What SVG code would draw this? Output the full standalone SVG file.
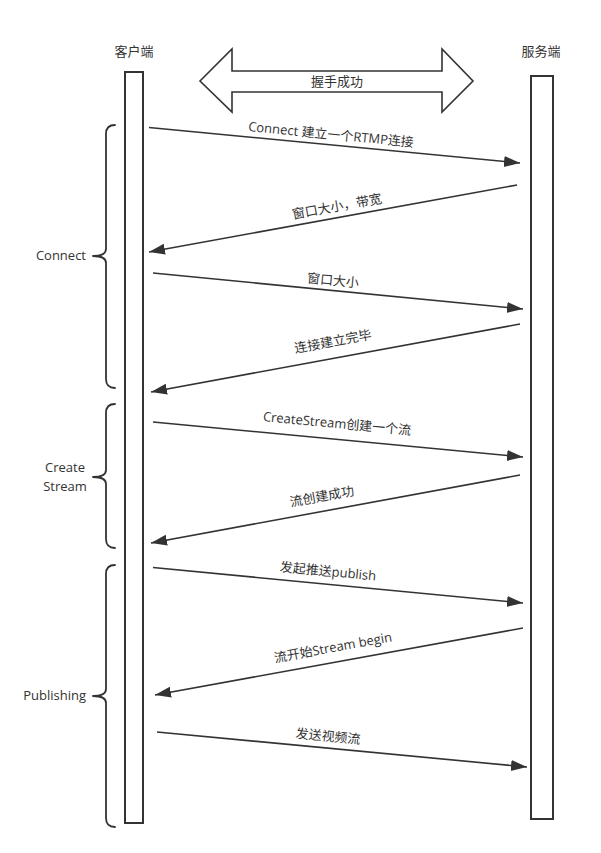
<svg xmlns="http://www.w3.org/2000/svg" width="601" height="853" viewBox="0 0 601 853">
<style>
.t{font-family:"Open Sans","Noto Sans CJK SC",sans-serif;font-size:13px;fill:#333}
.ln{stroke:#333;stroke-width:1.6;fill:none}
.box{stroke:#333;stroke-width:2;fill:#fff}
.br{stroke:#333;stroke-width:1.8;fill:none;stroke-linecap:round;stroke-linejoin:round}
</style>
<defs>
<marker id="ah" markerUnits="userSpaceOnUse" markerWidth="18" markerHeight="14" viewBox="0 0 18 14" refX="16" refY="7" orient="auto">
<path d="M0,1.5 L16,7 L0,12.5 Z" fill="#333"/>
</marker>
</defs>
<rect width="601" height="853" fill="#fff"/>
<g id="client">
<rect class="box" x="125" y="72" width="18" height="751"/>
<text class="t" x="134" y="56" text-anchor="middle">客户端</text>
</g>
<g id="server">
<rect class="box" x="531" y="76" width="22" height="743"/>
<text class="t" x="541" y="56" text-anchor="middle">服务端</text>
</g>
<g id="handshake">
<polygon points="200,81 232,49 232,71 442,71 442,49 473,81 442,112 442,92 232,92 232,112" fill="#fff" stroke="#333" stroke-width="1.6" stroke-linejoin="miter"/>
<text class="t" x="337" y="86" text-anchor="middle">握手成功</text>
</g>
<g id="brace-connect">
<path class="br" d="M115,125 Q106,125 106,134 L106,249 Q106,256 93,256 Q106,256 106,263 L106,379 Q106,388 115,388"/>
<text class="t" x="86" y="260" text-anchor="end">Connect</text>
</g>
<g id="brace-create">
<path class="br" d="M115,404 Q106,404 106,413 L106,470 Q106,477 93,477 Q106,477 106,484 L106,539 Q106,548 115,548"/>
<text class="t" x="65" y="472" text-anchor="middle">Create</text>
<text class="t" x="65" y="491" text-anchor="middle">Stream</text>
</g>
<g id="brace-publishing">
<path class="br" d="M115,565 Q106,565 106,574 L106,689 Q106,696 93,696 Q106,696 106,703 L106,818 Q106,827 115,827"/>
<text class="t" x="86" y="700" text-anchor="end">Publishing</text>
</g>
<g id="connectors">
<line class="ln" x1="149" y1="127.5" x2="520" y2="163" marker-end="url(#ah)"/>
<line class="ln" x1="517" y1="185" x2="149" y2="252" marker-end="url(#ah)"/>
<line class="ln" x1="153" y1="273" x2="523" y2="309" marker-end="url(#ah)"/>
<line class="ln" x1="520" y1="324" x2="151" y2="392" marker-end="url(#ah)"/>
<line class="ln" x1="153" y1="422" x2="523" y2="457" marker-end="url(#ah)"/>
<line class="ln" x1="520" y1="475" x2="151" y2="543" marker-end="url(#ah)"/>
<line class="ln" x1="153" y1="567.5" x2="523" y2="603" marker-end="url(#ah)"/>
<line class="ln" x1="523" y1="628" x2="155" y2="695" marker-end="url(#ah)"/>
<line class="ln" x1="157" y1="732" x2="527" y2="767" marker-end="url(#ah)"/>
</g>
<g id="labels">
<text class="t" x="331" y="139" text-anchor="middle" transform="rotate(5.5 331 135)">Connect 建立一个RTMP连接</text>
<text class="t" x="337" y="211" text-anchor="middle" transform="rotate(-10.3 337 207)">窗口大小，带宽</text>
<text class="t" x="333" y="285" text-anchor="middle" transform="rotate(5.5 333 281)">窗口大小</text>
<text class="t" x="333" y="346" text-anchor="middle" transform="rotate(-10.4 333 342)">连接建立完毕</text>
<text class="t" x="337" y="428" text-anchor="middle" transform="rotate(5.4 337 424)">CreateStream创建一个流</text>
<text class="t" x="322" y="501" text-anchor="middle" transform="rotate(-10.4 322 497)">流创建成功</text>
<text class="t" x="328" y="576" text-anchor="middle" transform="rotate(5.5 328 572)">发起推送publish</text>
<text class="t" x="333" y="652" text-anchor="middle" transform="rotate(-10.3 333 648)">流开始Stream begin</text>
<text class="t" x="328" y="741" text-anchor="middle" transform="rotate(5.5 328 737)">发送视频流</text>
</g>
</svg>
